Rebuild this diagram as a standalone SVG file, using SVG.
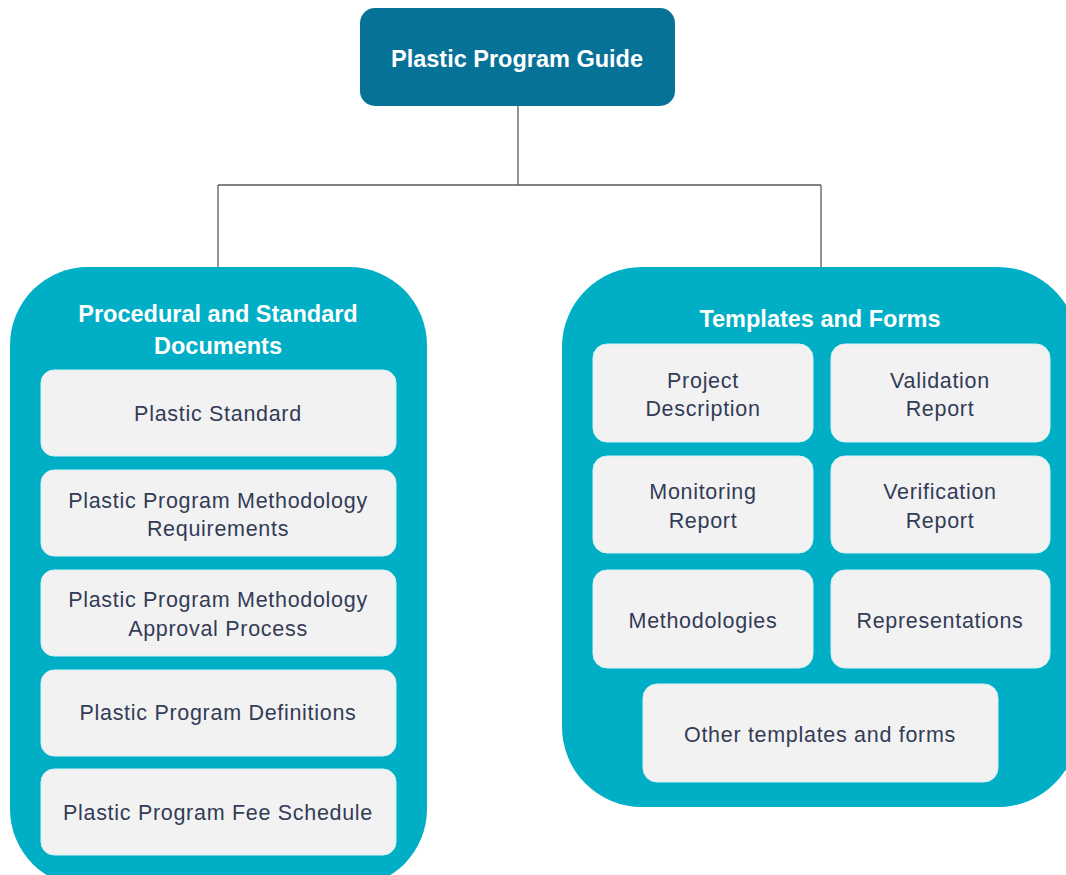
<svg xmlns="http://www.w3.org/2000/svg" width="1066" height="875" viewBox="0 0 1066 875">
<style>
.cont{fill:#00afc6;}
.item{fill:#f2f2f2;stroke:#d6f0f4;stroke-width:1;}
.it{font-family:"Liberation Sans",Arial,sans-serif;font-size:21.5px;letter-spacing:0.7px;fill:#323c57;text-anchor:middle;}
.hd{font-family:"Liberation Sans",Arial,sans-serif;font-size:23.5px;font-weight:bold;fill:#ffffff;text-anchor:middle;}
.conn{fill:none;stroke:#5a5a5a;stroke-width:1.3;}
</style>
<rect width="1066" height="875" fill="#ffffff"/>
<g id="connectors">
<path class="conn" d="M518,106 V185 M218,185 H821 M218,185 V268 M821,185 V268"/>
</g>
<g id="root">
<rect x="360" y="8" width="315" height="98" rx="15" fill="#077298"/>
<text class="hd" x="517" y="67">Plastic Program Guide</text>
</g>
<g id="procedural">
<rect class="cont" x="10" y="267" width="417" height="620" rx="78"/>
<text class="hd" x="218" y="322">Procedural and Standard</text>
<text class="hd" x="218" y="354">Documents</text>
</g>
<g id="plastic-standard">
<rect class="item" x="41" y="370" width="355" height="86" rx="13"/>
<text class="it" x="218" y="421">Plastic Standard</text>
</g>
<g id="methodology-requirements">
<rect class="item" x="41" y="470" width="355" height="86" rx="13"/>
<text class="it" x="218" y="508">Plastic Program Methodology</text>
<text class="it" x="218" y="536">Requirements</text>
</g>
<g id="methodology-approval">
<rect class="item" x="41" y="570" width="355" height="86" rx="13"/>
<text class="it" x="218" y="607">Plastic Program Methodology</text>
<text class="it" x="218" y="636">Approval Process</text>
</g>
<g id="definitions">
<rect class="item" x="41" y="670" width="355" height="86" rx="13"/>
<text class="it" x="218" y="720">Plastic Program Definitions</text>
</g>
<g id="fee-schedule">
<rect class="item" x="41" y="769" width="355" height="86" rx="13"/>
<text class="it" x="218" y="820">Plastic Program Fee Schedule</text>
</g>
<g id="templates">
<rect class="cont" x="562" y="267" width="516" height="540" rx="80"/>
<text class="hd" x="820" y="327">Templates and Forms</text>
</g>
<g id="project-description">
<rect class="item" x="593" y="344" width="220" height="98" rx="14"/>
<text class="it" x="703" y="388">Project</text>
<text class="it" x="703" y="416">Description</text>
</g>
<g id="validation-report">
<rect class="item" x="831" y="344" width="219" height="98" rx="14"/>
<text class="it" x="940" y="388">Validation</text>
<text class="it" x="940" y="416">Report</text>
</g>
<g id="monitoring-report">
<rect class="item" x="593" y="456" width="220" height="97" rx="14"/>
<text class="it" x="703" y="499">Monitoring</text>
<text class="it" x="703" y="528">Report</text>
</g>
<g id="verification-report">
<rect class="item" x="831" y="456" width="219" height="97" rx="14"/>
<text class="it" x="940" y="499">Verification</text>
<text class="it" x="940" y="528">Report</text>
</g>
<g id="methodologies">
<rect class="item" x="593" y="570" width="220" height="98" rx="14"/>
<text class="it" x="703" y="628">Methodologies</text>
</g>
<g id="representations">
<rect class="item" x="831" y="570" width="219" height="98" rx="14"/>
<text class="it" x="940" y="628">Representations</text>
</g>
<g id="other-templates">
<rect class="item" x="643" y="684" width="355" height="98" rx="14"/>
<text class="it" x="820" y="742">Other templates and forms</text>
</g>
</svg>
